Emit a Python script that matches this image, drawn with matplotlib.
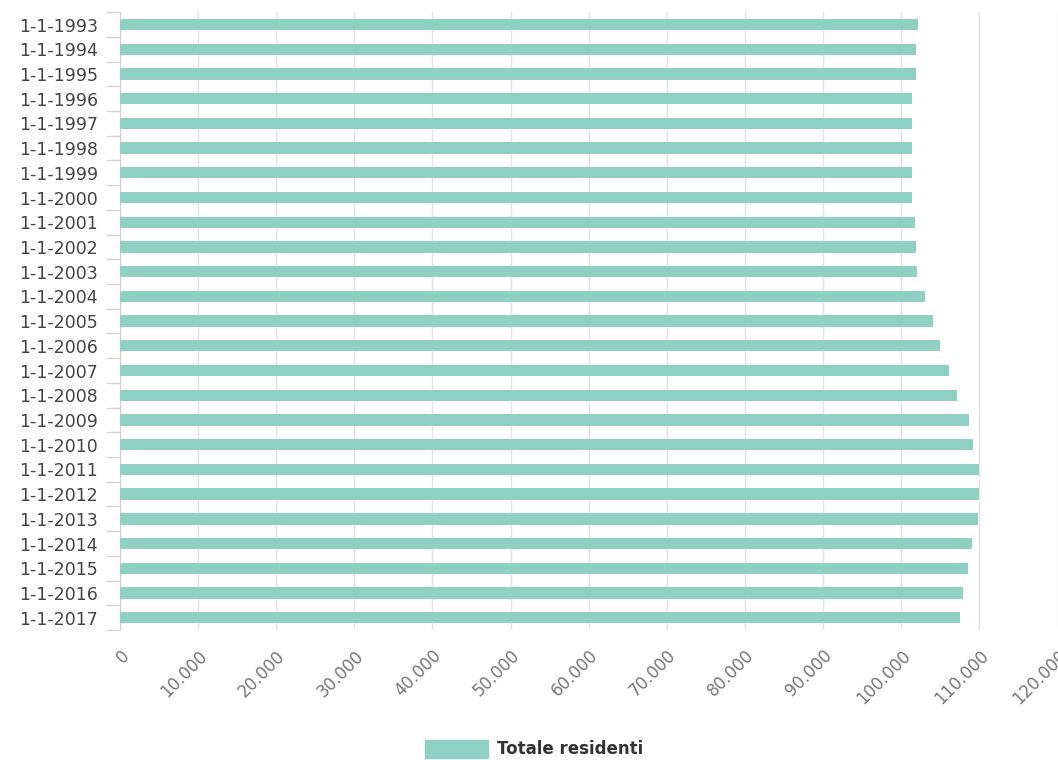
import matplotlib
matplotlib.use("Agg")
import matplotlib.pyplot as plt
from matplotlib.patches import Rectangle
from matplotlib.ticker import FuncFormatter, MultipleLocator

# Resident population on 1 January of each year
anni = [str(a) for a in range(1993, 2018)]
etichette = ["1-1-" + a for a in anni]
residenti = [102200, 101870, 101920, 101450, 101450, 101450, 101450, 101450,
             101830, 101920, 102090, 103070, 104100, 104950, 106150, 107130,
             108750, 109260, 110030, 110030, 109860, 109090, 108620, 107980,
             107550]

colore_barre = "#8fd0c2"

fig = plt.figure(figsize=(10.58, 7.60), dpi=100)
ax = fig.add_axes([0.1134, 0.171, 0.886, 0.813])

pos = list(range(len(etichette)))
ax.barh(pos, residenti, height=0.46, color=colore_barre, zorder=3)

ax.set_ylim(len(etichette) - 0.5, -0.5)
ax.set_xlim(0, 120000)

# grid every 10.000, thousands with a dot
ax.xaxis.set_major_locator(MultipleLocator(10000))
ax.xaxis.set_major_formatter(FuncFormatter(lambda v, p: f"{int(v):,}".replace(",", ".")))
ax.grid(axis="x", color="#e3e3e3", linewidth=1, zorder=0)

ax.set_yticks(pos)
ax.set_yticklabels(etichette, fontsize=12.5, color="#444444")
ax.set_yticks([p - 0.5 for p in pos] + [len(pos) - 0.5], minor=True)
ax.tick_params(axis="y", which="major", length=0, pad=16)
ax.tick_params(axis="y", which="minor", length=10, color="#d8d0d0", width=1)

for lab in ax.get_xticklabels():
    lab.set_rotation(45)
    lab.set_ha("right")
    lab.set_va("top")
    lab.set_rotation_mode("anchor")
ax.tick_params(axis="x", length=0, labelsize=12, labelcolor="#777777", pad=12)

for lato in ["top", "right", "bottom"]:
    ax.spines[lato].set_visible(False)
ax.spines["left"].set_color("#d0d0d0")

# legend below the chart
fig.patches.append(Rectangle((425 / 1058, 1 - 758 / 760), 63 / 1058, 18 / 760,
                             transform=fig.transFigure, color=colore_barre))
fig.text(497 / 1058, 1 - 749 / 760, "Totale residenti", fontsize=12,
         fontweight="bold", color="#333333", va="center", ha="left")

fig.savefig("out.png", dpi=100)
